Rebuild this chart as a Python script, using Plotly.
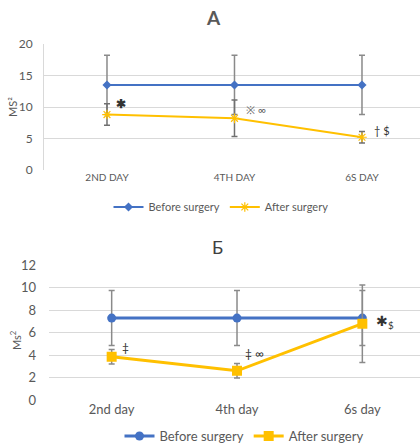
import plotly.graph_objects as go

# ---- data ----
days_a = ["2ND DAY", "4TH DAY", "6S DAY"]
before_a = [13.5, 13.5, 13.5]
before_a_err = [4.7, 4.7, 4.7]
after_a = [8.8, 8.2, 5.2]
after_a_err = [1.7, 2.9, 0.9]
marks_a = ["<b>✱</b>", "※ ∞", "† $"]
mark_a_y = [10.6, 9.6, 6.2]

days_b = ["2nd day", "4th day", "6s day"]
before_b = [7.3, 7.3, 7.3]
before_b_err = [2.45, 2.45, 2.45]
after_b = [3.85, 2.6, 6.8]
after_b_err = [0.65, 0.65, 3.45]
marks_b = ["‡", "‡ ∞", "✱<sub>$</sub>"]
mark_b_y = [4.7, 4.1, 7.0]

BLUE = "#4472C4"
ORANGE = "#FFC000"
ERR = "#8A8A8A"
GRID = "#D9D9D9"
TXT = "#595959"
FONT = "Lato, 'Open Sans', sans-serif"

W, H = 420, 443

def px_x(p):
    return p / W

def px_y(p):
    return 1 - p / H

fig = go.Figure()

# top chart
fig.add_trace(go.Scatter(
    x=[0, 1, 2], y=before_a, name="Before surgery", xaxis="x", yaxis="y",
    mode="lines+markers", line=dict(color=BLUE, width=2),
    marker=dict(symbol="diamond", size=7, color=BLUE),
    error_y=dict(type="data", array=before_a_err, color=ERR, thickness=1.5, width=3),
    legend="legend"))
fig.add_trace(go.Scatter(
    x=[0, 1, 2], y=after_a, name="After surgery", xaxis="x", yaxis="y",
    mode="lines+markers", line=dict(color=ORANGE, width=2),
    marker=dict(symbol="asterisk-open", size=8, color=ORANGE, line=dict(color=ORANGE, width=1.2)),
    error_y=dict(type="data", array=after_a_err, color="#707070", thickness=1.5, width=3),
    legend="legend"))

# bottom chart
fig.add_trace(go.Scatter(
    x=[0, 1, 2], y=before_b, name="Before surgery", xaxis="x2", yaxis="y2",
    mode="lines+markers", line=dict(color=BLUE, width=3),
    marker=dict(symbol="circle", size=9, color=BLUE),
    error_y=dict(type="data", array=before_b_err, color=ERR, thickness=1.5, width=3),
    legend="legend2"))
fig.add_trace(go.Scatter(
    x=[0, 1, 2], y=after_b, name="After surgery", xaxis="x2", yaxis="y2",
    mode="lines+markers", line=dict(color=ORANGE, width=3),
    marker=dict(symbol="square", size=10, color=ORANGE),
    error_y=dict(type="data", array=after_b_err, color=ERR, thickness=1.5, width=3),
    legend="legend2"))

annotations = []
for i, t in enumerate(marks_a):
    annotations.append(dict(x=i, y=mark_a_y[i], xref="x", yref="y", text=t,
                            showarrow=False, xanchor="left", yanchor="middle",
                            xshift=[7, 10, 10][i],
                            font=dict(size=[12, 11, 11][i],
                                      color=["#333333", "#666666", "#333333"][i],
                                      family=FONT)))
for i, t in enumerate(marks_b):
    annotations.append(dict(x=i, y=mark_b_y[i], xref="x2", yref="y2", text=t,
                            showarrow=False, xanchor="left", yanchor="middle",
                            xshift=[8, 6, 12][i],
                            font=dict(size=[12, 12, 14][i], color="#333333", family=FONT)))

# titles and axis titles
annotations += [
    dict(x=px_x(213), y=px_y(18), xref="paper", yref="paper", text="<b>A</b>",
         showarrow=False, xanchor="center", yanchor="middle",
         font=dict(size=19, color=TXT, family=FONT)),
    dict(x=px_x(217), y=px_y(247), xref="paper", yref="paper", text="Б",
         showarrow=False, xanchor="center", yanchor="middle",
         font=dict(size=18, color="#404040", family=FONT)),
    dict(x=px_x(13), y=px_y(107), xref="paper", yref="paper", text="MS²",
         showarrow=False, textangle=-90, xanchor="center", yanchor="middle",
         font=dict(size=11, color=TXT, family=FONT)),
    dict(x=px_x(15), y=px_y(340), xref="paper", yref="paper", text="Ms<sup>2</sup>",
         showarrow=False, textangle=-90, xanchor="center", yanchor="middle",
         font=dict(size=11, color=TXT, family=FONT)),
]

fig.update_layout(
    width=W, height=H, margin=dict(l=0, r=0, t=0, b=0, autoexpand=False),
    paper_bgcolor="white", plot_bgcolor="white",
    font=dict(family=FONT, color=TXT),
    annotations=annotations,
    xaxis=dict(domain=[px_x(44), 1], range=[-0.494, 2.455], tickvals=[0, 1, 2],
               ticktext=days_a, showgrid=False, zeroline=False, showline=False,
               ticks="", tickfont=dict(size=10, color=TXT), anchor="y",
               automargin=False),
    yaxis=dict(domain=[px_y(170), px_y(44)], range=[0, 20], dtick=5,
               gridcolor=GRID, zeroline=False, showline=True, linecolor=GRID,
               ticks="", tickfont=dict(size=12, color=TXT), ticklabelstandoff=8,
               anchor="x", automargin=False),
    xaxis2=dict(domain=[px_x(49), 1], range=[-0.5, 2.46], tickvals=[0, 1, 2],
                ticktext=days_b, showgrid=False, zeroline=False, showline=False,
                ticks="", tickfont=dict(size=13, color=TXT), anchor="y2",
                automargin=False),
    yaxis2=dict(domain=[px_y(400), px_y(265.3)], range=[0, 12], dtick=2,
                gridcolor=GRID, zeroline=False, showline=False,
                ticks="", tickfont=dict(size=13, color=TXT), ticklabelstandoff=12,
                anchor="x2", automargin=False),
    legend=dict(orientation="h", x=px_x(221), y=px_y(207), xanchor="center",
                yanchor="middle", itemwidth=30, font=dict(size=11, color=TXT),
                bgcolor="rgba(0,0,0,0)"),
    legend2=dict(orientation="h", x=px_x(244), y=px_y(436), xanchor="center",
                 yanchor="middle", itemwidth=30, font=dict(size=13, color=TXT),
                 bgcolor="rgba(0,0,0,0)"),
)

fig.write_html(
    "out.html",
    config={"displayModeBar": False},
    post_script=(
        "document.documentElement.style.margin='0';"
        "document.documentElement.style.overflow='hidden';"
        "document.body.style.margin='0';"
        "document.body.style.overflow='hidden';"
        "var gd=document.getElementById('{plot_id}');"
        "gd.style.position='fixed';gd.style.left='0px';gd.style.top='0px';"
    ),
)
